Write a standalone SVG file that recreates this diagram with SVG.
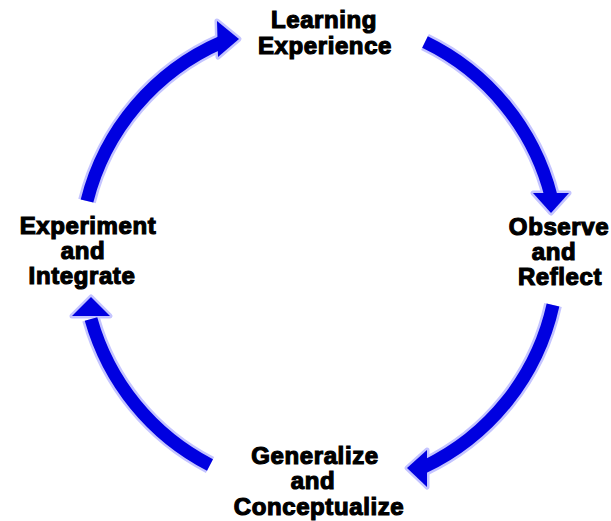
<svg xmlns="http://www.w3.org/2000/svg" width="611" height="521" viewBox="0 0 611 521">
  <style>
    .lbl { font-family: "Liberation Sans", Arial, sans-serif; font-weight: bold; font-size: 24px; letter-spacing: 0.6px; fill: #000; stroke: #000; stroke-width: 1.2; text-anchor: middle; }
    .halo { fill: none; stroke: #c4c4ff; stroke-width: 18; stroke-linecap: butt; }
    .shaft { fill: none; stroke: #0000e0; stroke-width: 13; stroke-linecap: butt; }
    .halohead { fill: #c4c4ff; stroke: #c4c4ff; stroke-width: 5; stroke-linejoin: round; }
    .head { fill: #0000e0; }
  </style>
  <rect width="611" height="521" fill="#fff"/>

  <!-- cycle arrows, clockwise -->
  <g id="connectors">
    <g id="arrow-experiment-to-learning">
      <path class="halo" d="M87,201 A236,236 0 0 1 222,42"/>
      <polygon class="halohead" points="217,21 239,39 218,57"/>
      <path class="shaft" d="M87,201 A236,236 0 0 1 222,42"/>
      <polygon class="head" points="217,21 239,39 218,57"/>
    </g>
    <g id="arrow-learning-to-observe">
      <path class="halo" d="M425,42 A236,236 0 0 1 551,196"/>
      <polygon class="halohead" points="533,193 569,193 551,213"/>
      <path class="shaft" d="M425,42 A236,236 0 0 1 551,196"/>
      <polygon class="head" points="533,193 569,193 551,213"/>
    </g>
    <g id="arrow-observe-to-generalize">
      <path class="halo" d="M553,305 A236,236 0 0 1 424,467"/>
      <polygon class="halohead" points="427,450 407,468 427,487"/>
      <path class="shaft" d="M553,305 A236,236 0 0 1 424,467"/>
      <polygon class="head" points="427,450 407,468 427,487"/>
    </g>
    <g id="arrow-generalize-to-experiment">
      <path class="halo" d="M210,465 A236,236 0 0 1 91,319"/>
      <polygon class="halohead" points="72,316 91,297 110,316"/>
      <path class="shaft" d="M210,465 A236,236 0 0 1 91,319"/>
      <polygon class="head" points="72,316 91,297 110,316"/>
    </g>
  </g>

  <g id="learning-experience">
    <text class="lbl" x="324" y="28">Learning</text>
    <text class="lbl" x="325" y="54">Experience</text>
  </g>

  <g id="observe-reflect">
    <text class="lbl" x="559" y="235">Observe</text>
    <text class="lbl" x="554" y="260">and</text>
    <text class="lbl" x="560" y="285">Reflect</text>
  </g>

  <g id="generalize-conceptualize">
    <text class="lbl" x="315" y="464">Generalize</text>
    <text class="lbl" x="313" y="489">and</text>
    <text class="lbl" x="319" y="515">Conceptualize</text>
  </g>

  <g id="experiment-integrate">
    <text class="lbl" x="88" y="234">Experiment</text>
    <text class="lbl" x="83" y="259">and</text>
    <text class="lbl" x="82" y="284">Integrate</text>
  </g>
</svg>
